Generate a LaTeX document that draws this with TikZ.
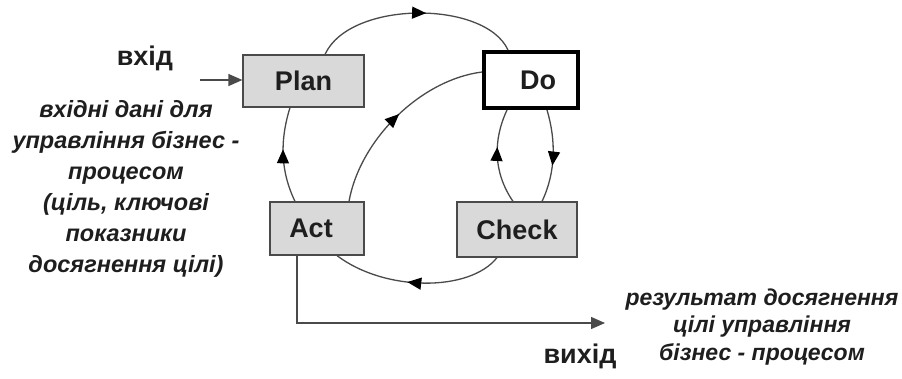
\documentclass[tikz,border=0pt]{standalone}
\usepackage{fontspec}
\setmainfont{Liberation Sans}
\usetikzlibrary{arrows.meta,decorations.markings}
\definecolor{boxfill}{HTML}{D9D9D9}
\definecolor{edge}{HTML}{4A4A4A}
\definecolor{ink}{HTML}{1E1E1E}
\begin{document}
\begin{tikzpicture}[x=1pt,y=-1pt,
  stage/.style={draw=edge, fill=boxfill, line width=1.2pt, inner sep=0pt,
    font=\fontsize{27}{32}\selectfont\bfseries, text=ink},
  flow/.style={draw=edge, line width=1.3pt},
  tipend/.style={-{Triangle[length=14pt,width=12pt]}},
  midarrow/.style={postaction={decorate}, decoration={markings,
    mark=at position #1 with {\arrow[black]{Triangle[length=14pt,width=12pt]}}}},
  biglabel/.style={font=\fontsize{27}{32}\selectfont\bfseries, text=ink},
  desc/.style={align=center, text=ink, inner sep=0pt}
]
\useasboundingbox (0,0) rectangle (902,378);

\node[stage, minimum width=121pt, minimum height=52pt] (plan) at (303.5,81) {Plan};
\node[stage, minimum width=94pt, minimum height=53pt] (act) at (317,228.5) {Act\hspace*{12pt}};
\node[stage, fill=white, draw=black, line width=4pt, minimum width=94pt, minimum height=56pt] (do) at (531,80) {\hspace*{14pt}Do};
\node[stage, minimum width=120pt, minimum height=55pt] (check) at (517,229.5) {Check};

% cycle connectors
\draw[flow, midarrow=0.55] ([xshift=21.5pt]plan.north) .. controls (350,0) and (485,0) .. ([xshift=-23pt]do.north);
\draw[flow, midarrow=0.52] ([xshift=32pt]act.north) .. controls (360,140) and (420,80) .. ([yshift=8pt]do.west);
\draw[flow, midarrow=0.56] ([xshift=-22pt]act.north) .. controls (280,170) and (280,140) .. ([xshift=-13.5pt]plan.south);
\draw[flow, midarrow=0.6] ([xshift=-4pt]check.north) .. controls (493,172) and (493,140) .. ([xshift=-24pt]do.south);
\draw[flow, midarrow=0.6] ([xshift=16pt]do.south) .. controls (556,140) and (556,172) .. ([xshift=25pt]check.north);
\draw[flow, midarrow=0.56] ([xshift=-20pt]check.south) .. controls (470,292) and (385,292) .. ([xshift=20pt]act.south);

% input and output
\coordinate (src) at (200,80);
\coordinate (dst) at (605,323);
\draw[flow, tipend] (src) -- (src -| plan.west);
\draw[flow, tipend] ([xshift=-20pt]act.south) |- (dst);

% labels
\node[biglabel] (inlbl) at (145,58) {вхід};
\node[biglabel] (outlbl) at (580,356) {вихід};
\node[desc, font=\fontsize{23.5}{31}\selectfont\bfseries\itshape] (indesc) at (126,189)
  {вхідні дані для\\управління бізнес -\\процесом\\(ціль, ключові\\показники\\досягнення цілі)};
\node[desc, font=\fontsize{23}{27.5}\selectfont\bfseries\itshape] (outdesc) at (762,327)
  {результат досягнення\\цілі управління\\бізнес - процесом};
\end{tikzpicture}
\end{document}
